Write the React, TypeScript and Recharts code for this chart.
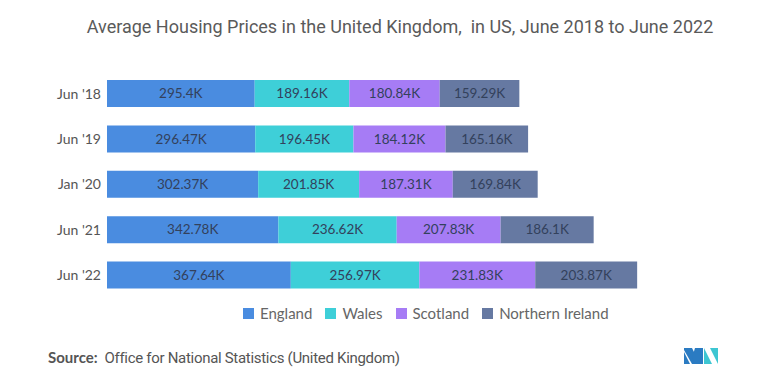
import React from "react";
import { BarChart, Bar, XAxis, YAxis, LabelList } from "recharts";

const categories = ["Jun '18", "Jun '19", "Jan '20", "Jun '21", "Jun '22"];
const england = [295.4, 296.47, 302.37, 342.78, 367.64];
const wales = [189.16, 196.45, 201.85, 236.62, 256.97];
const scotland = [180.84, 184.12, 187.31, 207.83, 231.83];
const northernIreland = [159.29, 165.16, 169.84, 186.1, 203.87];

const seriesNames = ["England", "Wales", "Scotland", "Northern Ireland"];
const colors = ["#4a8ce0", "#3ecfd8", "#a67cf5", "#6679a2"];

const data = categories.map((c, i) => ({
  name: c,
  England: england[i],
  Wales: wales[i],
  Scotland: scotland[i],
  "Northern Ireland": northernIreland[i],
}));

const fmt = (v: any) => `${Number(v)}K`;

const font = "Lato, 'Open Sans', sans-serif";

export default function App() {
  return (
    <div style={{ position: "absolute", left: 0, top: 0, width: 777, height: 391, background: "#fff", fontFamily: font }}>
      <div
        style={{
          position: "absolute",
          top: 16,
          left: 0,
          width: 800,
          textAlign: "center",
          fontFamily: "Roboto, sans-serif",
          fontSize: 18,
          color: "#5a5a5a",
          whiteSpace: "pre",
        }}
      >
        {"Average Housing Prices in the United Kingdom,  in US, June 2018 to June 2022"}
      </div>
      <BarChart
        width={777}
        height={391}
        data={data}
        layout="vertical"
        margin={{ top: 71, bottom: 93, left: 0, right: 70 }}
        barSize={27}
      >
        <XAxis type="number" domain={[0, 1200]} hide />
        <YAxis
          type="category"
          dataKey="name"
          width={107}
          axisLine={false}
          tickLine={false}
          tickMargin={0}
          tick={{ fill: "#555", fontSize: 14, fontFamily: font }}
        />
        {seriesNames.map((s, i) => (
          <Bar key={s} dataKey={s} stackId="a" fill={colors[i]} isAnimationActive={false}>
            <LabelList
              dataKey={s}
              position="center"
              formatter={fmt}
              style={{ fill: "#33415c", fontSize: 13.5, fontFamily: font }}
            />
          </Bar>
        ))}
      </BarChart>
      <div
        style={{
          position: "absolute",
          top: 304,
          left: 243,
          display: "flex",
          alignItems: "center",
          fontSize: 15,
          color: "#666",
          whiteSpace: "nowrap",
        }}
      >
        {seriesNames.map((s, i) => (
          <div key={s} style={{ display: "flex", alignItems: "center", marginRight: 13 }}>
            <div style={{ width: 11, height: 11, background: colors[i], marginRight: 6 }} />
            <span>{s}</span>
          </div>
        ))}
      </div>
      <div style={{ position: "absolute", left: 48, top: 348, fontSize: 15, color: "#555", whiteSpace: "pre" }}>
        <span style={{ fontWeight: 700, fontFamily: font }}>Source:</span>
        <span style={{ fontFamily: "Roboto, sans-serif", letterSpacing: -0.3 }}>{"  Office for National Statistics (United Kingdom)"}</span>
      </div>
      <svg style={{ position: "absolute", left: 684, top: 346 }} width={40} height={20}>
        <polygon points="0,2 8,2 16,18 8,18 0,4" fill="#2b7bc2" />
        <polygon points="0,6 6,18 0,18" fill="#2b7bc2" />
        <polygon points="11,2 19,2 19,18 11,18 8,12" fill="#2b7bc2" />
        <polygon points="20,2 28,18 20,18" fill="#3ec6d2" />
        <polygon points="26,2 34,2 34,18" fill="#3ec6d2" />
      </svg>
    </div>
  );
}
